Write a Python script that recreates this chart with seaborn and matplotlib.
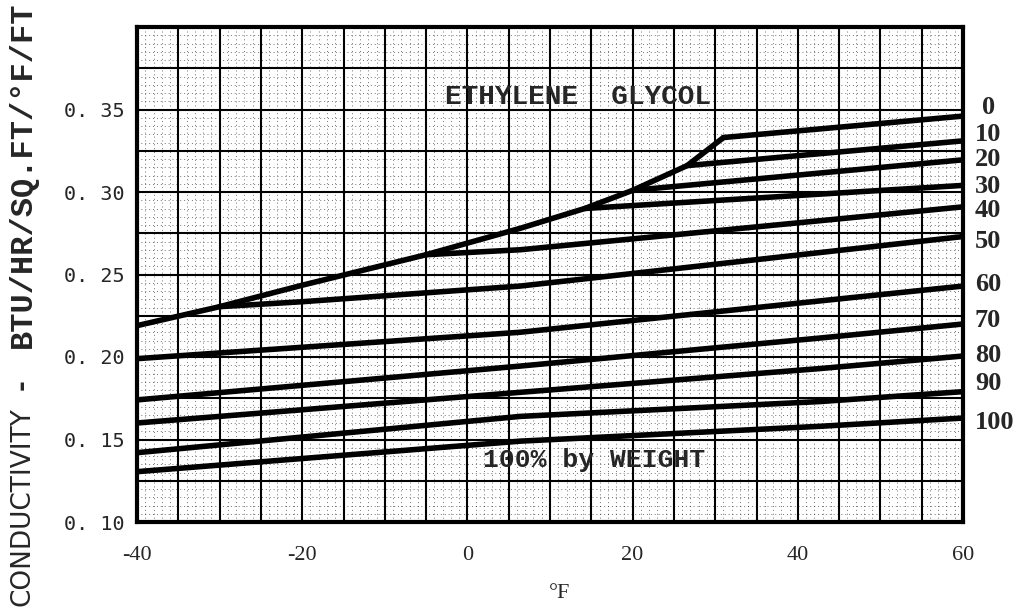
import numpy as np
import pandas as pd
import matplotlib
matplotlib.use("Agg")
import matplotlib.pyplot as plt
import seaborn as sns

# ---------------- data ----------------
concentrations = [0, 10, 20, 30, 40, 50, 60, 70, 80, 90, 100]

temps_0 = [32, 60]
cond_0 = [0.333, 0.346]
temps_10 = [26.6, 60]
cond_10 = [0.316, 0.331]
temps_20 = [20, 60]
cond_20 = [0.301, 0.3195]
temps_30 = [14.2, 60]
cond_30 = [0.290, 0.304]
temps_40 = [-5, 6.4, 60]
cond_40 = [0.262, 0.265, 0.291]
temps_50 = [-30, -20, 6.4, 60]
cond_50 = [0.2305, 0.2335, 0.243, 0.273]
temps_60 = [-40, 6.4, 42.7, 60]
cond_60 = [0.199, 0.215, 0.234, 0.243]
temps_70 = [-40, 6.4, 42.7, 60]
cond_70 = [0.174, 0.1945, 0.2115, 0.220]
temps_80 = [-40, 6.4, 42.7, 60]
cond_80 = [0.160, 0.1786, 0.193, 0.2006]
temps_90 = [-40, 6.4, 42.7, 60]
cond_90 = [0.142, 0.164, 0.173, 0.179]
temps_100 = [-40, 6.4, 42.7, 60]
cond_100 = [0.1305, 0.149, 0.158, 0.163]

# freezing-point envelope
freeze_temps = [-40, -30, -20, -5, 6.4, 14.2, 20, 26.6, 31]
freeze_cond = [0.219, 0.2305, 0.2435, 0.262, 0.278, 0.290, 0.301, 0.316, 0.333]

x_tick_values = [-40, -20, 0, 20, 40, 60]
x_tick_labels = ["-40", "-20", "0", "20", "40", "60"]
y_tick_values = [0.10, 0.15, 0.20, 0.25, 0.30, 0.35]
y_tick_labels = ["0. 10", "0. 15", "0. 20", "0. 25", "0. 30", "0. 35"]

curve_labels = ["0", "10", "20", "30", "40", "50", "60", "70", "80", "90", "100"]
label_y = [0.351, 0.335, 0.320, 0.3036, 0.2885, 0.2703, 0.2442, 0.2224, 0.2012, 0.1842, 0.1606]

title_text = "ETHYLENE  GLYCOL"
weight_text = "100% by WEIGHT"
xlabel_text = "°F"
ylabel_left = "CONDUCTIVITY"
ylabel_right = "BTU/HR/SQ.FT/°F/FT"

# ---------------- build long table ----------------
temps_0[0] = freeze_temps[-1]
all_t = [temps_0, temps_10, temps_20, temps_30, temps_40, temps_50,
         temps_60, temps_70, temps_80, temps_90, temps_100]
all_k = [cond_0, cond_10, cond_20, cond_30, cond_40, cond_50,
         cond_60, cond_70, cond_80, cond_90, cond_100]
rows = []
for c, ts, ks in zip(concentrations, all_t, all_k):
    for t, k in zip(ts, ks):
        rows.append({"conc": c, "temp": t, "k": k})
df = pd.DataFrame(rows)
df_freeze = pd.DataFrame({"temp": freeze_temps, "k": freeze_cond})

# ---------------- plot ----------------
sns.set_style("white")
plt.rcParams["font.family"] = ["DejaVu Sans"]

fig = plt.figure(figsize=(10.22, 6.10), dpi=100)
ax = fig.add_axes([137 / 1022, 1 - 522 / 610, (963 - 137) / 1022, (522 - 27) / 610])

ax.set_xlim(-40, 60)
ax.set_ylim(0.10, 0.40)

# graph-paper grid
major_x = np.arange(-40, 61, 5)
major_y = np.round(np.arange(0.10, 0.4001, 0.025), 3)
ax.set_xticks(major_x)
ax.set_yticks(major_y)
ax.set_xticks(np.arange(-40, 61, 1), minor=True)
ax.set_yticks(np.round(np.arange(0.10, 0.4001, 0.005), 3), minor=True)
xmap = dict(zip(x_tick_values, x_tick_labels))
ymap = {round(v, 3): s for v, s in zip(y_tick_values, y_tick_labels)}
ax.set_xticklabels([xmap.get(int(v), "") for v in major_x])
ax.set_yticklabels([ymap.get(round(float(v), 3), "") for v in major_y])
ax.grid(which="major", color="black", linewidth=1.5, linestyle="-")
ax.grid(which="minor", color="black", linewidth=0.7, linestyle=(0, (1, 3)), alpha=0.55)
ax.set_axisbelow(True)
ax.tick_params(which="both", length=0)
ax.tick_params(axis="y", pad=9)
ax.tick_params(axis="x", pad=17)
for lab in ax.get_yticklabels():
    lab.set_family(["DejaVu Sans Mono"])
    lab.set_fontsize(14.5)
for lab in ax.get_xticklabels():
    lab.set_family(["Liberation Serif"])
    lab.set_fontsize(16)

for s in ax.spines.values():
    s.set_visible(True)
    s.set_color("black")
    s.set_linewidth(3)

sns.lineplot(data=df, x="temp", y="k", hue="conc", units="conc", estimator=None,
             palette=["black"] * len(concentrations), legend=False,
             linewidth=4, ax=ax, sort=True)
sns.lineplot(data=df_freeze, x="temp", y="k", color="black", linewidth=4,
             estimator=None, ax=ax)

ax.set_xlabel("")
ax.set_ylabel("")

# right-side curve labels
trans = ax.get_yaxis_transform()
for lab, yv in zip(curve_labels, label_y):
    xoff = 1.023 if lab == "0" else 1.0145
    ax.text(xoff, yv, lab, transform=trans, ha="left", va="center",
            fontsize=19, fontweight="bold", family=["Liberation Serif"], clip_on=False)

ax.text(13.4, 0.3576, title_text, ha="center", va="center", fontsize=20,
        fontweight="bold", family=["Liberation Mono"])
ax.text(15.3, 0.1376, weight_text, ha="center", va="center", fontsize=19,
        fontweight="bold", family=["Liberation Mono"])

fig.text(560 / 1022, 1 - 593 / 610, xlabel_text, ha="center", va="center",
         fontsize=16, family=["Liberation Serif"])

# rotated y label in two fonts
fig.text(23 / 1022, 1 - 606 / 610, ylabel_left, rotation=90, ha="center", va="bottom",
         fontsize=19, family=["DejaVu Sans"])
fig.text(23 / 1022, 1 - 385 / 610, "-", rotation=90, ha="center", va="center",
         fontsize=19, fontweight="bold", family=["DejaVu Sans"])
fig.text(23 / 1022, 1 - 2 / 610, ylabel_right, rotation=90, ha="center", va="top",
         fontsize=23, fontweight="bold", family=["Liberation Mono"])

fig.savefig("out.png", dpi=100)
